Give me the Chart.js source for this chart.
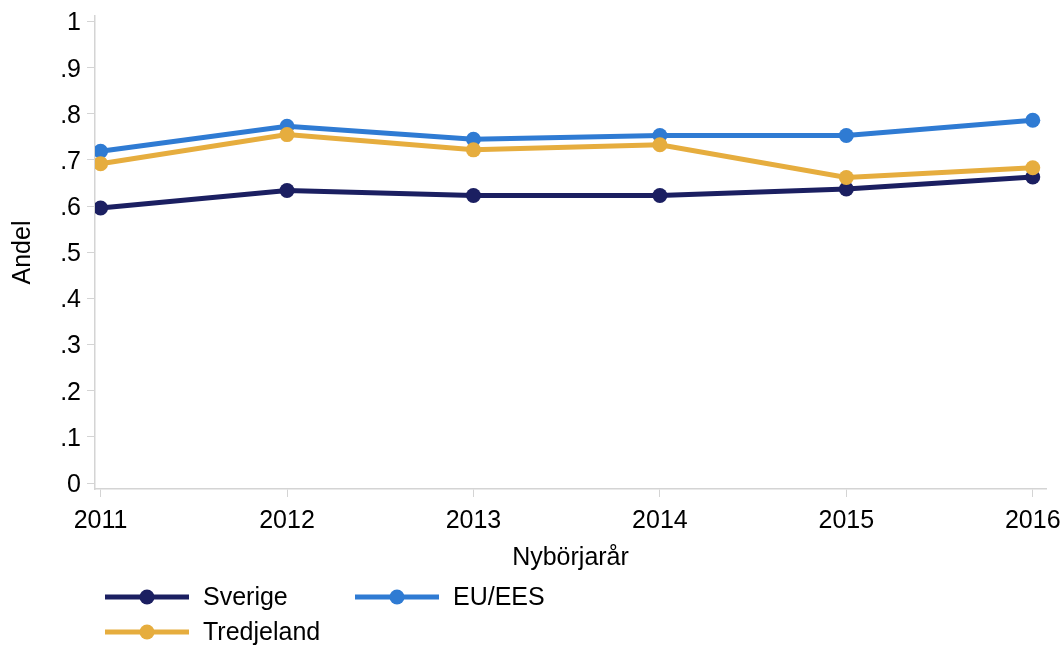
<!DOCTYPE html>
<html>
<head>
<meta charset="utf-8">
<script src="https://cdn.jsdelivr.net/npm/chart.js@4/dist/chart.umd.min.js"></script>
<style>
  html, body { margin: 0; padding: 0; background: #fff; }
  #wrap { width: 1064px; height: 648px; position: relative; }
</style>
</head>
<body>
<div id="wrap"><canvas id="chart"></canvas></div>
<script>
// Data
var years = [2011, 2012, 2013, 2014, 2015, 2016];
var sverige = [0.596, 0.634, 0.623, 0.623, 0.637, 0.663];
var euees = [0.719, 0.773, 0.745, 0.753, 0.753, 0.786];
var tredjeland = [0.692, 0.755, 0.722, 0.733, 0.662, 0.683];
var yTicks = [0, 0.1, 0.2, 0.3, 0.4, 0.5, 0.6, 0.7, 0.8, 0.9, 1];

var FONT = '"Liberation Sans", Arial, sans-serif';
var FSIZE = 25;
var axisGray = '#d4d4d4';

function toPoints(values) {
    return years.map(function(y, i) { return { x: y, y: values[i] }; });
}

function makeSet(label, values, color, order) {
    return {
        label: label,
        data: toPoints(values),
        borderColor: color,
        backgroundColor: color,
        borderWidth: 5,
        pointRadius: 7.5,
        pointHoverRadius: 7.5,
        pointBorderWidth: 0,
        tension: 0,
        order: order
    };
}

// legend drawn in two columns like the original
var legendPlugin = {
    id: 'twoColLegend',
    afterDraw: function(chart) {
        var ctx = chart.ctx;
        var slots = [
            { x: 105, y: 597 },
            { x: 355, y: 597 },
            { x: 105, y: 632 }
        ];
        ctx.save();
        chart.data.datasets.forEach(function(ds, i) {
            var s = slots[i];
            ctx.strokeStyle = ds.borderColor;
            ctx.lineWidth = 5;
            ctx.beginPath();
            ctx.moveTo(s.x, s.y);
            ctx.lineTo(s.x + 84, s.y);
            ctx.stroke();
            ctx.fillStyle = ds.backgroundColor;
            ctx.beginPath();
            ctx.arc(s.x + 42, s.y, 7.5, 0, Math.PI * 2);
            ctx.fill();
            ctx.fillStyle = '#000';
            ctx.font = FSIZE + 'px ' + FONT;
            ctx.textBaseline = 'middle';
            ctx.textAlign = 'left';
            ctx.fillText(ds.label, s.x + 98, s.y + 1);
        });
        ctx.restore();
    }
};

var ctx = document.getElementById('chart').getContext('2d');
new Chart(ctx, {
    type: 'line',
    data: {
        datasets: [
            makeSet('Sverige', sverige, '#1b1f61', 3),
            makeSet('EU/EES', euees, '#2f7bd3', 2),
            makeSet('Tredjeland', tredjeland, '#e6ad3e', 1)
        ]
    },
    options: {
        responsive: true,
        maintainAspectRatio: false,
        animation: false,
        layout: {
            padding: { top: 16, right: 18, bottom: 75, left: 0 }
        },
        plugins: {
            legend: { display: false },
            tooltip: { enabled: false }
        },
        scales: {
            x: {
                type: 'linear',
                min: 2010.97,
                max: 2016.071,
                afterBuildTicks: function(scale) {
                    scale.ticks = years.map(function(v) { return { value: v }; });
                },
                afterFit: function(scale) {
                    scale.height = 648 - 489 - 75;
                    // let the 2016 label run past the axis end, as in the original
                    scale.paddingLeft = 0;
                    scale.paddingRight = 0;
                },
                border: { display: true, color: axisGray, width: 1.5 },
                grid: { drawOnChartArea: false, drawTicks: true, tickLength: 8, color: axisGray },
                ticks: {
                    color: '#000',
                    padding: 9,
                    maxRotation: 0,
                    font: { family: FONT, size: FSIZE },
                    callback: function(v) { return String(v); }
                },
                title: {
                    display: true,
                    text: 'Nybörjarår',
                    color: '#000',
                    padding: { top: 4, bottom: 0 },
                    font: { family: FONT, size: FSIZE }
                }
            },
            y: {
                min: -0.013,
                max: 1.012,
                afterBuildTicks: function(scale) {
                    scale.ticks = yTicks.map(function(v) { return { value: v }; });
                },
                afterFit: function(scale) {
                    scale.width = 95;
                    scale.paddingTop = 0;
                    scale.paddingBottom = 0;
                },
                border: { display: true, color: axisGray, width: 1.5 },
                grid: { drawOnChartArea: false, drawTicks: true, tickLength: 8, color: axisGray },
                ticks: {
                    color: '#000',
                    padding: 6,
                    labelOffset: 2,
                    font: { family: FONT, size: FSIZE },
                    callback: function(v) {
                        var r = Math.round(v * 10);
                        if (r === 0) return '0';
                        if (r === 10) return '1';
                        return '.' + r;
                    }
                },
                title: {
                    display: true,
                    text: 'Andel',
                    color: '#000',
                    padding: { top: 8, bottom: 0 },
                    font: { family: FONT, size: FSIZE }
                }
            }
        }
    },
    plugins: [legendPlugin]
});
</script>
</body>
</html>
